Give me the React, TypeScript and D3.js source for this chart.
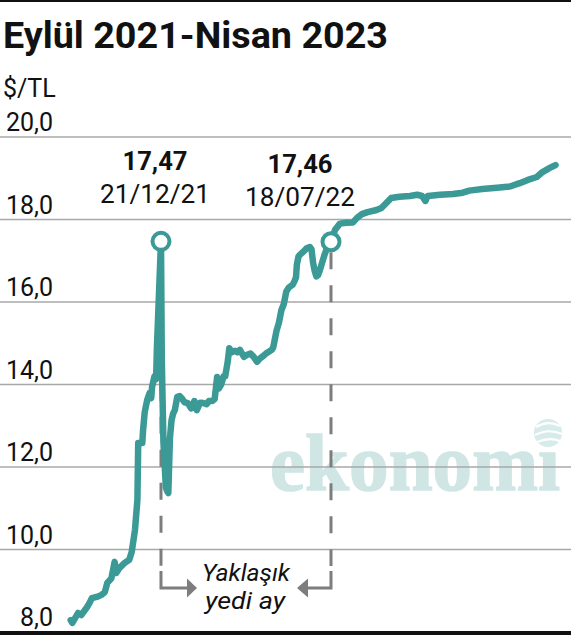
import React from "react";
import * as d3 from "d3";

const title = "Eylül 2021-Nisan 2023";
const unitLabel = "$/TL";
const yTicks = [8, 10, 12, 14, 16, 18, 20];

const dates = [
  "2021-09-01","2021-09-03","2021-09-10","2021-09-14","2021-09-21","2021-09-24","2021-09-27",
  "2021-10-03","2021-10-09","2021-10-13","2021-10-16","2021-10-21","2021-10-25","2021-10-27","2021-10-31",
  "2021-11-06","2021-11-12","2021-11-15","2021-11-19","2021-11-22","2021-11-23","2021-11-28","2021-11-29",
  "2021-12-01","2021-12-04","2021-12-07","2021-12-09","2021-12-10","2021-12-13","2021-12-15","2021-12-16",
  "2021-12-21","2021-12-22","2021-12-24","2021-12-27","2021-12-29","2021-12-30",
  "2022-01-01","2022-01-03","2022-01-05","2022-01-07","2022-01-10","2022-01-13","2022-01-15","2022-01-19",
  "2022-01-23","2022-01-27","2022-01-31","2022-02-03","2022-02-07","2022-02-11","2022-02-15","2022-02-18",
  "2022-02-22","2022-02-25","2022-02-28","2022-03-02","2022-03-05","2022-03-08","2022-03-10","2022-03-13",
  "2022-03-15","2022-03-18","2022-03-22","2022-03-25","2022-03-28","2022-04-02","2022-04-06","2022-04-10",
  "2022-04-14","2022-04-18","2022-04-21","2022-04-25","2022-04-29","2022-05-03","2022-05-06","2022-05-08",
  "2022-05-10","2022-05-12","2022-05-15","2022-05-18","2022-05-21","2022-05-24","2022-05-27","2022-06-01",
  "2022-06-03","2022-06-05","2022-06-06","2022-06-08","2022-06-10","2022-06-14","2022-06-18","2022-06-22",
  "2022-06-24","2022-06-26","2022-06-28","2022-06-30","2022-07-02","2022-07-04","2022-07-07","2022-07-10",
  "2022-07-13","2022-07-18","2022-07-23","2022-07-29","2022-08-06","2022-08-14","2022-08-19","2022-08-25",
  "2022-09-01","2022-09-12","2022-09-18","2022-09-24","2022-09-30","2022-10-10","2022-10-23","2022-11-01",
  "2022-11-07","2022-11-11","2022-11-14","2022-11-29","2022-12-15","2022-12-27","2023-01-04","2023-01-20",
  "2023-02-07","2023-02-23","2023-03-07","2023-03-17","2023-03-28","2023-04-04","2023-04-13","2023-04-20",
];

const usdTry = [
  8.29,8.22,8.46,8.41,8.60,8.70,8.82,
  8.85,8.90,8.97,9.19,9.30,9.70,9.43,9.55,
  9.67,9.75,9.94,10.47,11.20,12.58,12.58,12.90,
  13.33,13.62,13.79,13.67,13.94,14.20,14.13,14.90,
  17.47,14.60,12.60,11.50,11.40,11.37,
  12.70,13.14,13.30,13.38,13.70,13.72,13.68,13.57,
  13.55,13.42,13.60,13.38,13.56,13.55,13.52,13.60,
  13.60,13.65,14.18,13.90,14.00,14.20,14.20,14.55,
  14.88,14.78,14.82,14.78,14.84,14.67,14.72,14.75,
  14.67,14.55,14.62,14.68,14.75,14.80,14.84,14.90,
  15.10,15.30,15.50,15.80,15.95,16.25,16.35,16.42,
  16.50,16.60,16.90,17.10,17.15,17.22,17.30,17.33,
  17.28,16.95,16.75,16.62,16.65,16.75,16.95,17.14,
  17.30,17.46,17.75,17.90,17.92,17.93,18.04,18.13,
  18.18,18.23,18.28,18.40,18.52,18.55,18.57,18.60,
  18.57,18.45,18.57,18.60,18.62,18.65,18.70,18.74,
  18.77,18.80,18.88,18.96,19.03,19.15,19.25,19.32,
];

const peakDates = ["2021-12-21", "2022-07-18"];
const peakValues = [17.47, 17.46];
const peakValueLabels = ["17,47", "17,46"];
const peakDateLabels = ["21/12/21", "18/07/22"];
const spanLabel = ["Yaklaşık", "yedi ay"];
const watermark = "ekonomı";

const W = 571;
const H = 635;
const TEAL = "#3b9a96";
const GRAY = "#7d7d7d";
const FONT = "Roboto, 'Noto Sans', sans-serif";

const parse = d3.utcParse("%Y-%m-%d");

export default function App() {
  const x = d3
    .scaleUtc()
    .domain([parse("2021-09-01") as Date, parse("2023-04-20") as Date])
    .range([70.7, 555.5]);
  const y = d3.scaleLinear().domain([8, 20]).range([632, 137]);

  const data = dates.map((d, i) => ({ date: parse(d) as Date, v: usdTry[i] }));
  const line = d3
    .line<{ date: Date; v: number }>()
    .x((d) => x(d.date))
    .y((d) => y(d.v))
    .curve(d3.curveLinear);

  const peaks = peakDates.map((d, i) => ({
    px: x(parse(d) as Date),
    py: y(peakValues[i]),
  }));
  const r = 8.5;
  const arrowY = 588;
  const labelOffsets = [
    { cx: 155, b1: 170, b2: 203 },
    { cx: 300, b1: 173, b2: 206 },
  ];

  return (
    <svg
      width={W}
      height={H}
      viewBox={`0 0 ${W} ${H}`}
      style={{ position: "absolute", left: 0, top: 0, background: "#fff" }}
    >
      <rect x={0} y={0} width={W} height={H} fill="#fff" />
      {/* top rule */}
      <rect x={0} y={0} width={W} height={2} fill="#111" />

      {/* watermark */}
      <g>
        <text
          x={270}
          y={490}
          fontFamily="'Liberation Serif', serif"
          fontWeight={700}
          fontSize={80}
          fill="#cfe6e5"
          stroke="#cfe6e5"
          strokeWidth={1.5}
          textLength={290}
          lengthAdjust="spacingAndGlyphs"
        >
          {watermark}
        </text>
        <circle cx={548} cy={433} r={14} fill="#d7ebea" />
        <path d="M536,427 Q548,420 560,426" stroke="#fff" strokeWidth={2.2} fill="none" />
        <path d="M535,435 Q549,428 562,434" stroke="#fff" strokeWidth={2.2} fill="none" />
        <path d="M537,442 Q550,437 560,441" stroke="#fff" strokeWidth={2.2} fill="none" />
      </g>

      {/* gridlines */}
      {yTicks.slice(1).map((t) => (
        <line key={t} x1={0} x2={W} y1={y(t)} y2={y(t)} stroke="#a8a8a8" strokeWidth={1.5} />
      ))}
      {/* bottom rule */}
      <rect x={0} y={631} width={W} height={4} fill="#111" />

      {/* title and labels */}
      <text
        x={3}
        y={48}
        fontFamily={FONT}
        fontWeight={700}
        fontSize={36}
        fill="#111"
        textLength={385}
        lengthAdjust="spacingAndGlyphs"
      >
        {title}
      </text>
      <text x={3} y={97} fontFamily={FONT} fontSize={25} fill="#111">
        {unitLabel}
      </text>
      {yTicks.map((t) => (
        <text
          key={t}
          x={53}
          y={y(t) - 6}
          textAnchor="end"
          fontFamily={FONT}
          fontSize={25}
          fill="#111"
        >
          {d3.format(".1f")(t).replace(".", ",")}
        </text>
      ))}

      {/* dashed guides */}
      {peaks.map((p, i) => (
        <line
          key={i}
          x1={p.px}
          x2={p.px}
          y1={p.py + r + 2}
          y2={566}
          stroke={GRAY}
          strokeWidth={3}
          strokeDasharray="17,16"
        />
      ))}
      <path
        d={`M${peaks[0].px},571 V${arrowY} H${peaks[0].px + 27}`}
        stroke={GRAY}
        strokeWidth={3}
        fill="none"
      />
      <path
        d={`M${peaks[0].px + 26},${arrowY - 9.5} L${peaks[0].px + 36},${arrowY} L${peaks[0].px + 26},${arrowY + 9.5} Z`}
        fill={GRAY}
      />
      <path
        d={`M${peaks[1].px},571 V${arrowY} H${peaks[1].px - 24}`}
        stroke={GRAY}
        strokeWidth={3}
        fill="none"
      />
      <path
        d={`M${peaks[1].px - 23},${arrowY - 9.5} L${peaks[1].px - 34},${arrowY} L${peaks[1].px - 23},${arrowY + 9.5} Z`}
        fill={GRAY}
      />
      <text
        x={246}
        y={581}
        textAnchor="middle"
        fontFamily={FONT}
        fontStyle="italic"
        fontSize={23}
        fill="#111"
        textLength={88}
        lengthAdjust="spacingAndGlyphs"
      >
        {spanLabel[0]}
      </text>
      <text
        x={245}
        y={609}
        textAnchor="middle"
        fontFamily={FONT}
        fontStyle="italic"
        fontSize={23}
        fill="#111"
        textLength={80}
        lengthAdjust="spacingAndGlyphs"
      >
        {spanLabel[1]}
      </text>

      {/* data line */}
      <path
        d={line(data) || ""}
        fill="none"
        stroke={TEAL}
        strokeWidth={6.5}
        strokeLinejoin="round"
        strokeLinecap="round"
      />

      {/* peak markers & labels */}
      {peaks.map((p, i) => (
        <g key={i}>
          <circle cx={p.px} cy={p.py} r={r} fill="#fff" stroke={TEAL} strokeWidth={4} />
          <text
            x={labelOffsets[i].cx}
            y={labelOffsets[i].b1}
            textAnchor="middle"
            fontFamily={FONT}
            fontWeight={700}
            fontSize={25}
            fill="#111"
            textLength={65}
            lengthAdjust="spacingAndGlyphs"
          >
            {peakValueLabels[i]}
          </text>
          <text
            x={labelOffsets[i].cx}
            y={labelOffsets[i].b2}
            textAnchor="middle"
            fontFamily={FONT}
            fontSize={25}
            fill="#111"
            textLength={110}
            lengthAdjust="spacingAndGlyphs"
          >
            {peakDateLabels[i]}
          </text>
        </g>
      ))}
    </svg>
  );
}
